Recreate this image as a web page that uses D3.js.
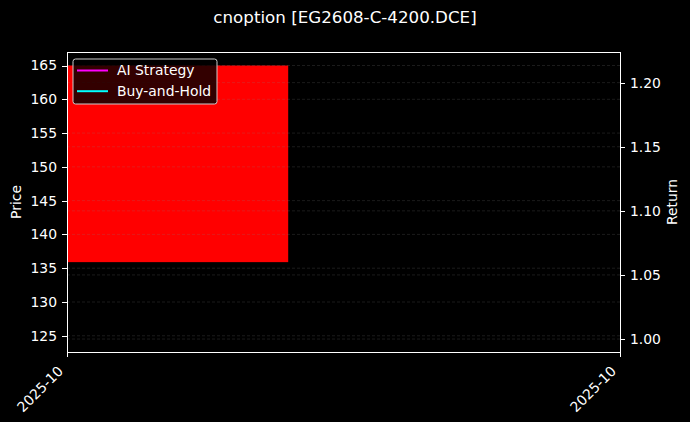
<!DOCTYPE html>
<html>
<head>
<meta charset="utf-8">
<title>cnoption</title>
<script src="https://d3js.org/d3.v7.min.js"></script>
<style>
	body { margin: 0; background: #000; }
	svg { display: block; font-family: "DejaVu Sans", sans-serif; }
	.tick text { fill: #fff; font-size: 13.9px; font-family: "DejaVu Sans", sans-serif; }
	.tick line { stroke: #fff; shape-rendering: crispEdges; }
	.domain { display: none; }
</style>
</head>
<body>
<svg width="690" height="422"></svg>
<script>
// candle data
var dates = ["2025-10-15"];
var opens = [165.0];
var closes = [135.9];

// return series (single point each)
var aiStrategy = [1.0];
var buyHold = [1.0];

var priceTicks = [125, 130, 135, 140, 145, 150, 155, 160, 165];
var returnTicks = [1.00, 1.05, 1.10, 1.15, 1.20];

var svg = d3.select("svg"),
	margin = {top: 52, right: 70, bottom: 70, left: 67},
	width = +svg.attr("width") - margin.left - margin.right,
	height = +svg.attr("height") - margin.top - margin.bottom;

svg.append("rect").attr("width", 690).attr("height", 422).attr("fill", "#000");

var parse = d3.timeParse("%Y-%m-%d");
var t0 = parse(dates[0]);
var t1 = d3.timeDay.offset(t0, 1);

var x = d3.scaleTime().domain([t0, t1]).range([0, width]);
var y = d3.scaleLinear().domain([122.6, 167.0]).range([height, 0]);
var y2 = d3.scaleLinear().domain([0.9899, 1.2239]).range([height, 0]);

var g = svg.append("g")
	.attr("transform", "translate(" + margin.left + "," + margin.top + ")");

// candle body (0.4 day wide)
g.selectAll(".candle")
	.data(dates)
	.enter().append("rect")
	.attr("class", "candle")
	.attr("x", function(d) { return x(parse(d)); })
	.attr("width", function(d) { return x(new Date(+parse(d) + 0.4 * 864e5)) - x(parse(d)); })
	.attr("y", function(d, i) { return y(Math.max(opens[i], closes[i])); })
	.attr("height", function(d, i) { return Math.abs(y(opens[i]) - y(closes[i])); })
	.attr("fill", function(d, i) { return closes[i] < opens[i] ? "#ff0000" : "#00ff00"; });

// grids
g.selectAll(".grid1")
	.data(priceTicks)
	.enter().append("line")
	.attr("x1", 0).attr("x2", width)
	.attr("y1", function(d) { return y(d); })
	.attr("y2", function(d) { return y(d); })
	.attr("stroke", "#808080").attr("stroke-opacity", 0.3)
	.attr("stroke-width", 0.7).attr("stroke-dasharray", "3,2");

g.selectAll(".grid2")
	.data(returnTicks)
	.enter().append("line")
	.attr("x1", 0).attr("x2", width)
	.attr("y1", function(d) { return y2(d); })
	.attr("y2", function(d) { return y2(d); })
	.attr("stroke", "#808080").attr("stroke-opacity", 0.3)
	.attr("stroke-width", 0.7).attr("stroke-dasharray", "3,2");

// return lines
var line = d3.line()
	.x(function(d, i) { return x(parse(dates[i])); })
	.y(function(d) { return y2(d); });

g.append("path").datum(aiStrategy)
	.attr("fill", "none").attr("stroke", "#ff00ff").attr("stroke-width", 2)
	.attr("d", line);
g.append("path").datum(buyHold)
	.attr("fill", "none").attr("stroke", "#00ffff").attr("stroke-width", 2)
	.attr("d", line);

// axes
g.append("g")
	.call(d3.axisLeft(y).tickValues(priceTicks).tickSize(5).tickPadding(5));

g.append("g")
	.attr("transform", "translate(" + width + ",0)")
	.call(d3.axisRight(y2).tickValues(returnTicks).tickFormat(d3.format(".2f")).tickSize(5).tickPadding(5));

var xa = g.append("g")
	.attr("transform", "translate(0," + height + ")")
	.call(d3.axisBottom(x).tickValues([t0, t1]).tickFormat(d3.timeFormat("%Y-%m")).tickSize(5));

xa.selectAll("text")
	.style("text-anchor", "end")
	.attr("x", 0).attr("y", 0).attr("dy", 0)
	.attr("transform", "translate(-3.5,20) rotate(-45)");

// frame
g.append("rect")
	.attr("width", width).attr("height", height)
	.attr("fill", "none").attr("stroke", "#fff").attr("stroke-width", 1)
	.style("shape-rendering", "crispEdges");

// labels
svg.append("text")
	.attr("x", 345).attr("y", 23)
	.attr("text-anchor", "middle")
	.attr("fill", "#fff").style("font-size", "16.7px")
	.text("cnoption [EG2608-C-4200.DCE]");

svg.append("text")
	.attr("transform", "translate(21," + (margin.top + height / 2) + ") rotate(-90)")
	.attr("text-anchor", "middle")
	.attr("fill", "#fff").style("font-size", "13.9px")
	.text("Price");

svg.append("text")
	.attr("transform", "translate(677," + (margin.top + height / 2) + ") rotate(-90)")
	.attr("text-anchor", "middle")
	.attr("fill", "#fff").style("font-size", "13.9px")
	.text("Return");

// legend
var legendItems = [
	{name: "AI Strategy", color: "#ff00ff"},
	{name: "Buy-and-Hold", color: "#00ffff"}
];

var lg = svg.append("g").attr("transform", "translate(73,59)");
lg.append("rect")
	.attr("width", 144).attr("height", 45)
	.attr("rx", 2.5)
	.attr("fill", "#000").attr("fill-opacity", 0.8)
	.attr("stroke", "#ccc").attr("stroke-width", 1);

var li = lg.selectAll(".item")
	.data(legendItems)
	.enter().append("g")
	.attr("transform", function(d, i) { return "translate(0," + (11.5 + i * 20.7) + ")"; });

li.append("line")
	.attr("x1", 4).attr("x2", 35)
	.attr("stroke", function(d) { return d.color; })
	.attr("stroke-width", 2);

li.append("text")
	.attr("x", 44).attr("y", 0).attr("dy", "0.35em")
	.attr("fill", "#fff").style("font-size", "13.9px")
	.text(function(d) { return d.name; });
</script>
</body>
</html>
